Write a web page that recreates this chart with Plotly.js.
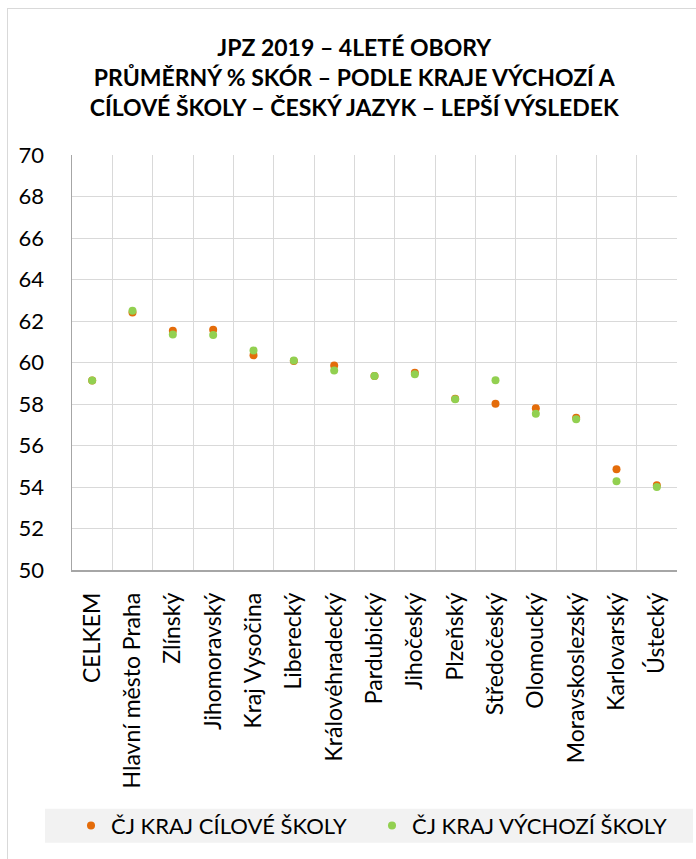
<!DOCTYPE html>
<html>
<head>
<meta charset="utf-8">
<script src="https://cdn.plot.ly/plotly-3.0.1.min.js"></script>
<style>
html,body{margin:0;padding:0;background:#fff;overflow:hidden;width:696px;height:859px;}
#chart{position:absolute;left:0;top:0;width:696px;height:859px;}
#frame{position:absolute;left:7px;top:8px;width:720px;height:900px;border:1px solid #d9d9d9;pointer-events:none;box-sizing:border-box;}
</style>
</head>
<body>
<div id="chart"></div>
<div id="frame"></div>
<script>
const categories = ["CELKEM","Hlavní město Praha","Zlínský","Jihomoravský","Kraj Vysočina","Liberecký","Královéhradecký","Pardubický","Jihočeský","Plzeňský","Středočeský","Olomoucký","Moravskoslezský","Karlovarský","Ústecký"];
const krajCiloveSkoly = [59.13, 62.41, 61.53, 61.58, 60.35, 60.07, 59.85, 59.35, 59.51, 58.25, 58.01, 57.79, 57.34, 54.86, 54.08];
const krajVychoziSkoly = [59.13, 62.50, 61.35, 61.33, 60.58, 60.10, 59.61, 59.35, 59.43, 58.23, 59.15, 57.53, 57.26, 54.28, 54.00];
const seriesNames = ["ČJ KRAJ CÍLOVÉ ŠKOLY", "ČJ KRAJ VÝCHOZÍ ŠKOLY"];
const titleText = "JPZ 2019 – 4LETÉ OBORY<br>PRŮMĚRNÝ % SKÓR – PODLE KRAJE VÝCHOZÍ A<br>CÍLOVÉ ŠKOLY – ČESKÝ JAZYK – LEPŠÍ VÝSLEDEK";

const FONT = "Lato, 'Open Sans', sans-serif";

const traces = [
  {type:'scatter', mode:'markers', name: seriesNames[0], x: categories, y: krajCiloveSkoly,
   marker:{color:'#E46C0A', size:8}, cliponaxis:false},
  {type:'scatter', mode:'markers', name: seriesNames[1], x: categories, y: krajVychoziSkoly,
   marker:{color:'#92D050', size:8}, cliponaxis:false}
];

const W = 696, H = 859;
const L = 72, R = 19, T = 155, B = 287;
const pw = W - L - R, ph = H - T - B;
function px(x){ return (x - L) / pw; }
function py(y){ return (H - B - y) / ph; }

const layout = {
  width: W, height: H,
  margin:{l:L, r:R, t:T, b:B, pad:0},
  paper_bgcolor:'#ffffff', plot_bgcolor:'#ffffff',
  font:{family:FONT, color:'#000000'},
  title:{text:titleText, font:{family:FONT, size:23, color:'#000', weight:'bold'},
         xref:'container', x:0.509, xanchor:'center', yref:'container', y:1-56/H, yanchor:'top'},
  showlegend:true,
  legend:{orientation:'h', x:px(71), xanchor:'left', y:py(829), yanchor:'middle', entrywidth:256,
          bgcolor:'rgba(0,0,0,0)', font:{family:FONT, size:22, color:'#000'}, traceorder:'normal'},
  shapes:[{type:'rect', xref:'paper', yref:'paper', x0:px(45), x1:px(693), y0:py(846), y1:py(812),
           fillcolor:'#f2f2f2', line:{width:0}, layer:'below'}],
  xaxis:{type:'category', tickson:'boundaries', range:[-0.5, categories.length-0.5],
         showgrid:true, gridcolor:'#d9d9d9', gridwidth:1,
         showline:true, linecolor:'#a6a6a6', linewidth:1.5, mirror:false,
         ticks:'', ticklabelstandoff:12,
         tickangle:-90, tickfont:{family:FONT, size:23, color:'#000'}, zeroline:false},
  yaxis:{range:[50,70], dtick:2, tick0:50, showgrid:true, gridcolor:'#d9d9d9', gridwidth:1,
         showline:true, linecolor:'#a6a6a6', linewidth:1.5,
         ticks:'outside', ticklen:22, tickcolor:'rgba(0,0,0,0)',
         tickfont:{family:FONT, size:22, color:'#000'}, zeroline:false}
};

Plotly.newPlot('chart', traces, layout, {displayModeBar:false, staticPlot:true});
</script>
</body>
</html>
